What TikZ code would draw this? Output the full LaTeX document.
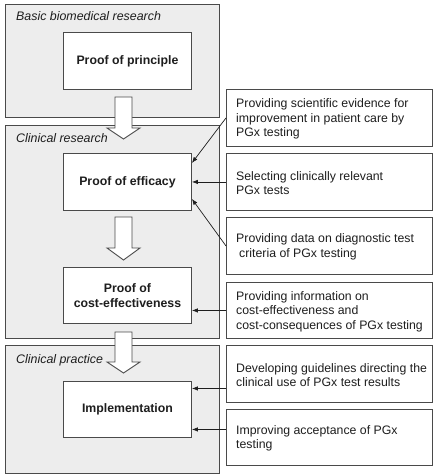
\documentclass[tikz,border=0pt]{standalone}
\usepackage{fontspec}
\setmainfont{Liberation Sans}
\usetikzlibrary{arrows.meta,calc}
\definecolor{panelfill}{HTML}{EDEDED}
\definecolor{edge}{HTML}{4A4A4A}
\definecolor{ink}{HTML}{1E1E1E}
\begin{document}
\begin{tikzpicture}[x=1pt,y=-1pt,
  panel/.style={draw=edge,fill=panelfill,line width=0.9pt,anchor=north west,minimum width=214pt,inner sep=0pt},
  stagebox/.style={draw=edge,fill=white,line width=0.9pt,anchor=north west,minimum width=128pt,minimum height=57pt,inner sep=2pt,align=center,font=\fontsize{12.3}{14.5}\selectfont\bfseries,text=ink},
  infobox/.style={draw=edge,fill=white,line width=0.9pt,anchor=north west,minimum width=206pt,minimum height=57pt,inner sep=0pt},
  infotext/.style={anchor=west,inner sep=0pt,align=left,font=\fontsize{12.3}{14.6}\selectfont,text=ink},
  plabel/.style={anchor=base west,inner sep=0pt,font=\fontsize{12.4}{14}\selectfont\itshape,text=ink},
  conn/.style={draw=ink,line width=0.7pt,-{Latex[length=6pt,width=4.5pt]}},
  barrow/.style={draw=edge,fill=white,line width=0.9pt,line join=miter}
]
\useasboundingbox (0,0) rectangle (440,476);
% panels
\node[panel,minimum height=113pt] (p1) at (5,4) {};
\node[panel,minimum height=213pt] (p2) at (5,125) {};
\node[panel,minimum height=128pt] (p3) at (5,345) {};
\node[plabel] (l1) at (16,21) {Basic biomedical research};
\node[plabel] (l2) at (16,142) {Clinical research};
\node[plabel] (l3) at (16,363) {Clinical practice};
% stage boxes
\node[stagebox] (pp) at (63,32) {Proof of principle};
\node[stagebox] (eff) at (63,153) {Proof of efficacy};
\node[stagebox,minimum height=56pt] (cost) at (63,267) {Proof of\\cost-effectiveness};
\node[stagebox,minimum height=56pt] (impl) at (63,381) {Implementation};
% block arrows
\draw[barrow] (115,97) -- (132,97) -- (132,128) -- (140,128) -- (123.5,139) -- (107,128) -- (115,128) -- cycle;
\draw[barrow] (115,217) -- (132,217) -- (132,248) -- (140,248) -- (123.5,260) -- (107,248) -- (115,248) -- cycle;
\draw[barrow] (115,332) -- (132,332) -- (132,362) -- (140,362) -- (123.5,373) -- (107,362) -- (115,362) -- cycle;
% info boxes
\node[infobox] (r1) at (226,89) {};
\node[infobox] (r2) at (226,153) {};
\node[infobox] (r3) at (226,217) {};
\node[infobox,minimum height=56pt] (r4) at (226,282) {};
\node[infobox] (r5) at (226,345) {};
\node[infobox,minimum height=56pt] (r6) at (226,409) {};
\node[infotext] (t1) at ([xshift=10pt,yshift=-1pt]r1.west) {Providing scientific evidence for\\improvement in patient care by\\PGx testing};
\node[infotext] (t2) at ([xshift=10pt,yshift=-1pt]r2.west) {Selecting clinically relevant\\PGx tests};
\node[infotext] (t3) at ([xshift=10pt,yshift=-1pt]r3.west) {Providing data on diagnostic test\\\hspace*{3pt}criteria of PGx testing};
\node[infotext] (t4) at ([xshift=10pt,yshift=-1pt]r4.west) {Providing information on\\cost-effectiveness and\\cost-consequences of PGx testing};
\node[infotext] (t5) at ([xshift=10pt,yshift=-1pt]r5.west) {Developing guidelines directing the\\clinical use of PGx test results};
\node[infotext] (t6) at ([xshift=10pt,yshift=-1pt]r6.west) {Improving acceptance of PGx\\testing};
% connectors
\draw[conn] (r1.west) -- ([yshift=-10pt]eff.north east);
\draw[conn] (r2.west) -- (eff.east);
\draw[conn] (r3.west) -- ([yshift=12pt]eff.south east);
\draw[conn] (r4.west) -- (r4.west -| cost.east);
\draw[conn] ([yshift=-14.5pt]r5.west) -- ([yshift=-14.5pt]r5.west -| impl.east);
\draw[conn] ([yshift=8pt]r6.west) -- ([yshift=8pt]r6.west -| impl.east);
\end{tikzpicture}
\end{document}
